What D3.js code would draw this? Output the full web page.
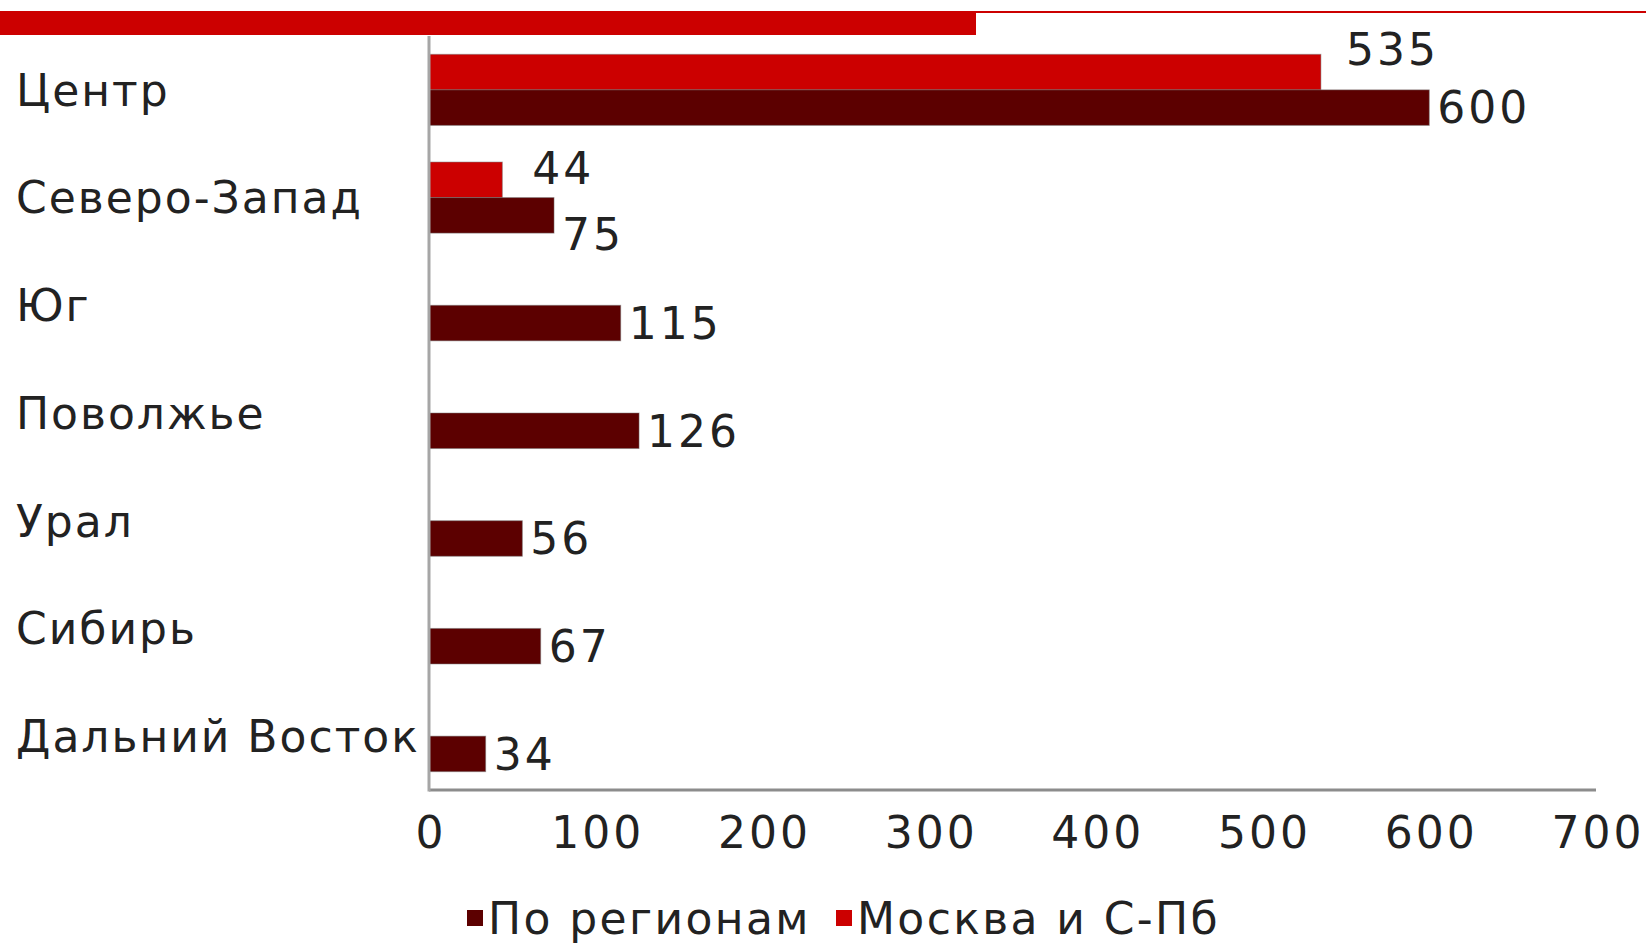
<!DOCTYPE html>
<html>
<head>
<meta charset="utf-8">
<script src="https://cdn.jsdelivr.net/npm/d3@7"></script>
<style>
  body { margin: 0; background: #fff; }
  svg { display: block; font-family: "DejaVu Sans", Verdana, sans-serif; }
</style>
</head>
<body>
<div id="chart"></div>
<script>
// regions, top to bottom
const categories = ['Центр', 'Северо-Запад', 'Юг', 'Поволжье', 'Урал', 'Сибирь', 'Дальний Восток'];
// "По регионам"
const regionValues = [600, 75, 115, 126, 56, 67, 34];
// "Москва и С-Пб" (only first two regions)
const capitalValues = [535, 44, null, null, null, null, null];
const xTicks = [0, 100, 200, 300, 400, 500, 600, 700];
const seriesNames = ['По регионам', 'Москва и С-Пб'];

const width = 1646;
const height = 943;
const colors = { regions: '#5c0000', capital: '#cc0000' };

const svg = d3.select('#chart')
    .append('svg')
    .attr('width', width)
    .attr('height', height);

// decorative red band on top
svg.append('rect').attr('x', 0).attr('y', 11).attr('width', 976).attr('height', 24).attr('fill', '#cc0000');
svg.append('rect').attr('x', 976).attr('y', 11).attr('width', width - 976).attr('height', 2).attr('fill', '#cc0000');

const plot = { left: 429, right: 1596, top: 36, bottom: 790 };

const xScale = d3.scaleLinear().domain([0, 700]).range([plot.left, plot.right]);
const yScale = d3.scaleBand()
    .domain(categories)
    .range([plot.top, plot.bottom])
    .paddingInner(0.34)
    .paddingOuter(0.17);
const subScale = d3.scaleBand()
    .domain(['capital', 'regions'])
    .range([0, yScale.bandwidth()]);

// build rows
const rows = categories.map((c, i) => ({ cat: c, regions: regionValues[i], capital: capitalValues[i] }));
const bars = [];
rows.forEach((r) => {
    if (r.capital != null) bars.push({ cat: r.cat, key: 'capital', value: r.capital });
    bars.push({ cat: r.cat, key: 'regions', value: r.regions });
});

svg.append('g')
    .selectAll('rect')
    .data(bars)
    .join('rect')
    .attr('x', xScale(0))
    .attr('y', (d) => yScale(d.cat) + subScale(d.key))
    .attr('width', (d) => xScale(d.value) - xScale(0))
    .attr('height', subScale.bandwidth())
    .attr('fill', (d) => colors[d.key])
    .attr('stroke', '#777')
    .attr('stroke-opacity', 0.5)
    .attr('stroke-width', 1);

// value labels (some were moved by hand in the original)
const nudge = {
    'Центр|capital': [25, -23],
    'Северо-Запад|capital': [30, -12],
    'Северо-Запад|regions': [8, 19],
};
svg.append('g')
    .selectAll('text')
    .data(bars)
    .join('text')
    .attr('x', (d) => xScale(d.value) + (nudge[d.cat + '|' + d.key] || [8, 0])[0])
    .attr('y', (d) => yScale(d.cat) + subScale(d.key) + subScale.bandwidth() / 2 + (nudge[d.cat + '|' + d.key] || [8, 0])[1])
    .attr('dy', '0.36em')
    .attr('font-size', 44)
    .attr('letter-spacing', 3)
    .attr('fill', '#222')
    .text((d) => d.value);

// axes
const xAxis = svg.append('g')
    .attr('transform', `translate(0, ${plot.bottom})`)
    .call(d3.axisBottom(xScale).tickValues(xTicks).tickSize(0).tickPadding(27));
xAxis.select('.domain').attr('stroke', '#8c8c8c').attr('stroke-width', 3).attr('d', `M${plot.left},0H${plot.right}`);
xAxis.selectAll('text')
    .attr('font-size', 44)
    .attr('font-family', '"DejaVu Sans", Verdana, sans-serif')
    .attr('letter-spacing', 3)
    .attr('dx', 1.5)
    .attr('fill', '#222');

svg.append('line')
    .attr('x1', plot.left).attr('x2', plot.left)
    .attr('y1', plot.top).attr('y2', plot.bottom + 1.5)
    .attr('stroke', '#a6a6a6').attr('stroke-width', 3);

// category labels
svg.append('g')
    .selectAll('text')
    .data(categories)
    .join('text')
    .attr('x', 16)
    .attr('y', (d) => yScale(d) + yScale.bandwidth() / 2)
    .attr('dy', '0.36em')
    .attr('font-size', 44)
    .attr('letter-spacing', 2)
    .attr('fill', '#222')
    .text((d) => d);

// legend
const legend = svg.append('g');
const legendItems = [
    { name: seriesNames[0], color: colors.regions, x: 467 },
    { name: seriesNames[1], color: colors.capital, x: 836 },
];
legendItems.forEach((it) => {
    legend.append('rect').attr('x', it.x).attr('y', 910).attr('width', 16).attr('height', 16).attr('fill', it.color);
    legend.append('text').attr('x', it.x + 21).attr('y', 918).attr('dy', '0.36em')
        .attr('font-size', 44).attr('letter-spacing', 2.4).attr('fill', '#222').text(it.name);
});
</script>
</body>
</html>
